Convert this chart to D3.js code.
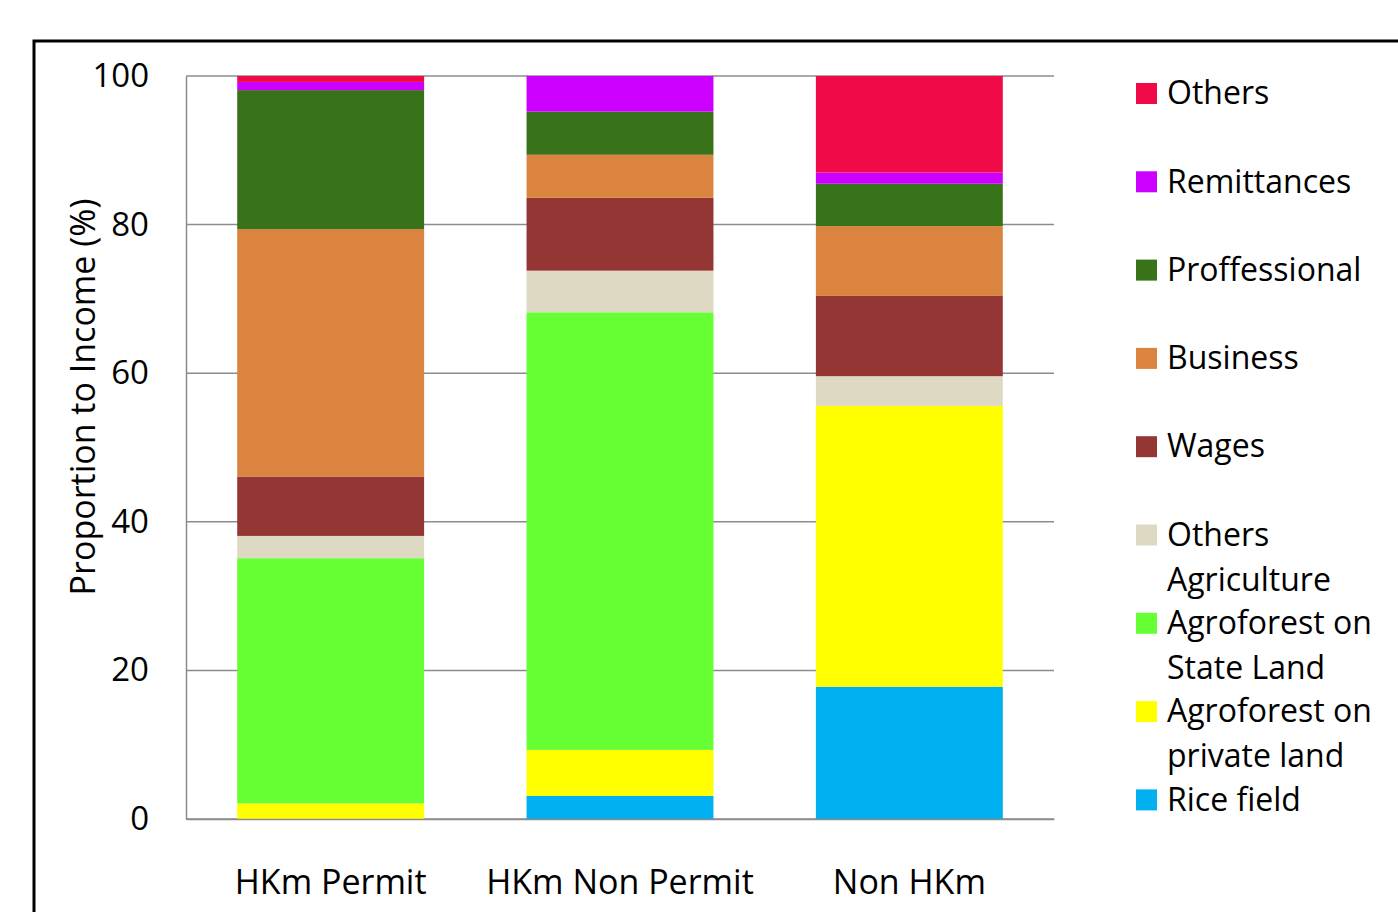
<!DOCTYPE html>
<html>
<head>
<meta charset="utf-8">
<script src="https://cdn.jsdelivr.net/npm/d3@7"></script>
<style>
  body { margin: 0; background: #fff; }
  svg { display: block; font-family: "Open Sans", "Noto Sans", sans-serif; }
</style>
</head>
<body>
<script>
// categories and income sources (bottom to top of each stack)
var groups = ["HKm Permit", "HKm Non Permit", "Non HKm"];
var sources = ["Rice field", "Agroforest on private land", "Agroforest on State Land",
               "Others Agriculture", "Wages", "Business", "Proffessional", "Remittances", "Others"];

// share of income (%) per source, in the order of groups
var riceField     = [0.0, 3.1, 17.8];
var agroPrivate   = [2.1, 6.2, 37.8];
var agroState     = [33.0, 58.9, 0.0];
var othersAgri    = [3.0, 5.6, 4.0];
var wages         = [8.0, 9.8, 10.8];
var business      = [33.3, 5.8, 9.4];
var professional  = [18.7, 5.8, 5.7];
var remittances   = [1.1, 4.8, 1.5];
var others        = [0.8, 0.0, 13.0];

var yTicks = [0, 20, 40, 60, 80, 100];

var colors = {
  "Rice field": "#00B0F0",
  "Agroforest on private land": "#FFFF00",
  "Agroforest on State Land": "#66FF33",
  "Others Agriculture": "#DDD9C3",
  "Wages": "#943634",
  "Business": "#DB843F",
  "Proffessional": "#387219",
  "Remittances": "#CC00FF",
  "Others": "#F00A48"
};

(function(){
  var series = [riceField, agroPrivate, agroState, othersAgri, wages, business, professional, remittances, others];
  var rows = groups.map(function(g, i){
    var r = {group: g};
    sources.forEach(function(s, j){ r[s] = series[j][i]; });
    return r;
  });

  var W = 1398, H = 912;
  var svg = d3.select("body").append("svg").attr("width", W).attr("height", H);

  // outer frame
  svg.append("rect")
     .attr("x", 34).attr("y", 41).attr("width", 1400).attr("height", 900)
     .attr("fill", "none").attr("stroke", "#000").attr("stroke-width", 3);

  var plotLeft = 186, plotRight = 1054, plotTop = 76, plotBottom = 819;

  var x = d3.scaleBand().domain(groups).range([plotLeft, plotRight]).paddingInner(0.354).paddingOuter(0.177);
  var y = d3.scaleLinear().domain([0, 100]).range([plotBottom, plotTop]);

  // gridlines
  svg.append("g").selectAll("line")
     .data(yTicks)
     .join("line")
     .attr("x1", plotLeft).attr("x2", plotRight)
     .attr("y1", function(d){ return y(d); }).attr("y2", function(d){ return y(d); })
     .attr("stroke", "#8c8c8c").attr("stroke-width", 1.5);

  // stacked bars
  var stack = d3.stack().keys(sources)(rows);
  svg.append("g").selectAll("g")
     .data(stack)
     .join("g")
     .attr("fill", function(d){ return colors[d.key]; })
     .selectAll("rect")
     .data(function(d){ return d; })
     .join("rect")
     .attr("x", function(d){ return x(d.data.group); })
     .attr("width", x.bandwidth())
     .attr("y", function(d){ return y(Math.min(d[1], 100)); })
     .attr("height", function(d){ return y(d[0]) - y(Math.min(d[1], 100)); });

  // y axis
  var yAxis = svg.append("g")
     .attr("transform", "translate(" + plotLeft + ",0)")
     .call(d3.axisLeft(y).tickValues(yTicks).tickSize(0).tickPadding(37));
  yAxis.select(".domain").attr("stroke", "#8c8c8c").attr("stroke-width", 1.5);
  yAxis.selectAll("text").attr("font-size", 33).attr("fill", "#000")
     .attr("font-family", "'Open Sans', sans-serif");

  // x axis
  var xAxis = svg.append("g")
     .attr("transform", "translate(0," + plotBottom + ")")
     .call(d3.axisBottom(x).tickSize(0).tickPadding(51));
  xAxis.select(".domain").attr("stroke", "#8c8c8c").attr("stroke-width", 1.5);
  xAxis.selectAll("text").attr("font-size", 34).attr("fill", "#000")
     .attr("font-family", "'Open Sans', sans-serif");

  // y axis title
  svg.append("text")
     .attr("transform", "translate(83,397) rotate(-90)")
     .attr("text-anchor", "middle")
     .attr("dy", "0.35em")
     .attr("font-size", 34)
     .text("Proportion to Income (%)");

  // legend (top entry = top of stack)
  var legendItems = [
    {key: "Others", lines: ["Others"]},
    {key: "Remittances", lines: ["Remittances"]},
    {key: "Proffessional", lines: ["Proffessional"]},
    {key: "Business", lines: ["Business"]},
    {key: "Wages", lines: ["Wages"]},
    {key: "Others Agriculture", lines: ["Others", "Agriculture"]},
    {key: "Agroforest on State Land", lines: ["Agroforest on", "State Land"]},
    {key: "Agroforest on private land", lines: ["Agroforest on", "private land"]},
    {key: "Rice field", lines: ["Rice field"]}
  ];

  var leg = svg.append("g").selectAll("g")
     .data(legendItems)
     .join("g")
     .attr("transform", function(d, i){ return "translate(1136," + (93 + i * 88.3) + ")"; });

  leg.append("rect")
     .attr("x", 0).attr("y", -10).attr("width", 21).attr("height", 21)
     .attr("fill", function(d){ return colors[d.key]; });

  leg.append("text")
     .attr("font-size", 32)
     .selectAll("tspan")
     .data(function(d){ return d.lines; })
     .join("tspan")
     .attr("x", 31)
     .attr("y", function(d, i){ return i * 45; })
     .attr("dy", "0.35em")
     .text(function(d){ return d; });
})();
</script>
</body>
</html>
